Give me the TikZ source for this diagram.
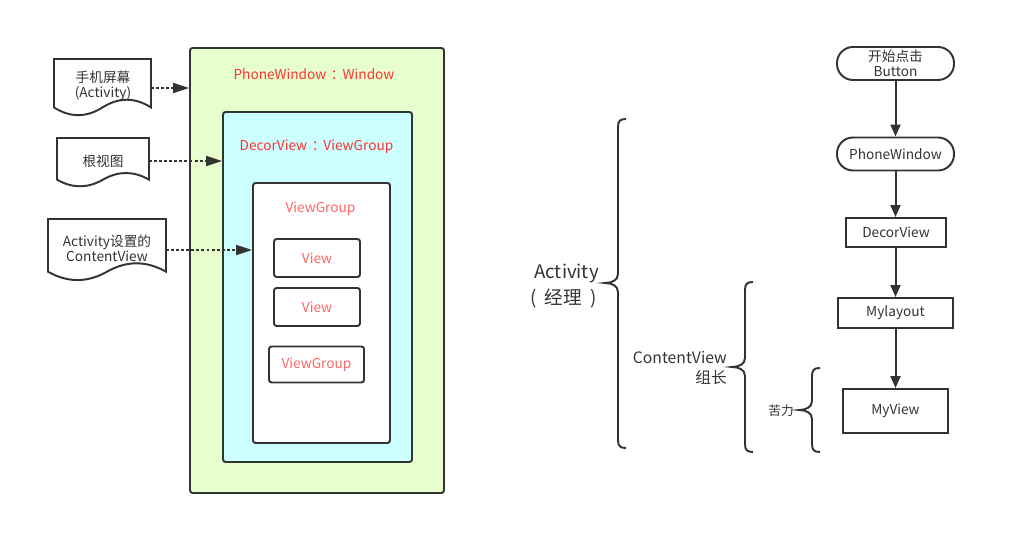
\documentclass[tikz,border=0pt]{standalone}
\usepackage{fontspec}
\setmainfont{Noto Sans CJK SC}
\usetikzlibrary{arrows.meta}
\definecolor{ln}{HTML}{333333}
\definecolor{redA}{HTML}{FF3333}
\definecolor{redB}{HTML}{FF6666}
\definecolor{greenfill}{HTML}{E6FFCC}
\definecolor{cyanfill}{HTML}{CCFFFF}
\newcommand\docshape[4]{%
  \pgfmathsetmacro\dw{#3-#1}\pgfmathsetmacro\dh{#4-#2}%
  \pgfmathsetmacro\ys{#4-0.15*\dh}%
  \pgfmathsetmacro\yc{\ys+2/3*(#4-0.42*\dh-\ys)}%
  \pgfmathsetmacro\yt{\ys+2/3*(#4+0.12*\dh-\ys)}%
  \pgfmathsetmacro\xm{(#1+#3)/2}%
  \draw[shapeline,fill=white] (#1,#2) -- (#3,#2) -- (#3,\ys) .. controls ({#3-\dw/6},\yc) and ({\xm+\dw/6},\yc) .. (\xm,\ys) .. controls ({\xm-\dw/6},\yt) and ({#1+\dw/6},\yt) .. (#1,\ys) -- cycle;}
\newcommand\bracepath[4]{% xv top mid bottom
  \draw[shapeline] ({#1+8},#2) .. controls ({#1+2},#2) and (#1,{#2+2}) .. (#1,{#2+8})
    -- (#1,{#3-9}) .. controls (#1,{#3-3}) and ({#1-6},#3) .. ({#1-13},#3)
    .. controls ({#1-6},#3) and (#1,{#3+3}) .. (#1,{#3+9})
    -- (#1,{#4-8}) .. controls (#1,{#4-2}) and ({#1+2},#4) .. ({#1+8},#4);}
\newcommand\smallfont{\fontsize{10.25}{11.25}\selectfont}
\tikzset{
  shapeline/.style={draw=ln, line width=1.45pt},
  box/.style={shapeline, rectangle, rounded corners=2pt, inner sep=0pt},
  fbox/.style={shapeline, rectangle, inner sep=0pt, font=\smallfont, text=ln, align=center},
  term/.style={fbox, rounded corners=12pt},
  txt/.style={inner sep=0pt, font=\smallfont, text=ln, align=center},
  redlabel/.style={inner sep=0pt, font=\smallfont, text=redA},
  redlabelB/.style={inner sep=0pt, font=\smallfont, text=redB},
  viewbox/.style={box, fill=white, text=redB, font=\smallfont},
  dotarrow/.style={draw=ln, line width=1.5pt, dash pattern=on 2.2pt off 1.6pt, -{Triangle[length=12pt,width=7.5pt]}},
  flowarrow/.style={draw=ln, line width=1.5pt, -{Triangle[length=9pt,width=7.5pt]}},
}
\begin{document}
\begin{tikzpicture}[x=0.75pt,y=-0.75pt]
\useasboundingbox (0,0) rectangle (1016,555);
% left containers
\node[box, fill=greenfill, minimum width=190.5pt, minimum height=333.75pt] (pw) at (317,270.5) {};
\node[redlabel] (pwl) at (314,74.5) {PhoneWindow\kern3.5pt：\kern-1.5pt Window};
\node[box, fill=cyanfill, minimum width=141.75pt, minimum height=262.5pt] (dv) at (317.5,287) {};
\node[redlabel] (dvl) at (316.5,147) {DecorView\kern3.5pt：\kern-1.5pt ViewGroup};
\node[box, fill=white, minimum width=102.75pt, minimum height=195pt] (vg) at (321.5,313) {};
\node[redlabelB] (vgl) at (320.5,208.5) {ViewGroup};
\node[viewbox, minimum width=64.5pt, minimum height=28.5pt] (v1) at (317,258) {View};
\node[viewbox, minimum width=64.5pt, minimum height=28.5pt] (v2) at (317,307) {View};
\node[viewbox, minimum width=71.25pt, minimum height=27pt] (vg2) at (316.5,364.5) {ViewGroup};
% documents
\docshape{54}{59}{151}{116}
\node[txt] (d1) at (103,86) {手机屏幕\\(Activity)};
\docshape{57}{138}{149}{187}
\node[txt] (d2) at (103,161.5) {根视图};
\docshape{48}{219}{166}{281}
\node[txt] (d3) at (107,248) {Activity设置的\\ContentView};
\coordinate (d1e) at (151,88);
\coordinate (d2e) at (149,161);
\coordinate (d3e) at (166,250);
\draw[dotarrow] (d1e) -- (d1e -| pw.west);
\draw[dotarrow] (d2e) -- (d2e -| dv.west);
\draw[dotarrow] (d3e) -- (d3e -| vg.west);
% braces
\bracepath{618}{119}{283}{448}
\bracepath{745}{282}{367}{452}
\bracepath{812}{368}{410}{452}
\node[inner sep=0pt, font=\fontsize{14}{18}\selectfont, text=ln] (act) at (566.5,273) {Activity};
\node[inner sep=0pt, font=\fontsize{14}{18}\selectfont, text=ln] (jl) at (563.5,298.5) {(\hspace{6pt}经理\hspace{6pt})};
\node[inner sep=0pt, font=\fontsize{11.8}{14}\selectfont, text=ln, anchor=east] (cv) at (727,358) {ContentView};
\node[inner sep=0pt, font=\fontsize{11.8}{14}\selectfont, text=ln, anchor=east] (zz) at (727,377.5) {组长};
\node[inner sep=0pt, font=\fontsize{9.5}{12}\selectfont, text=ln] (kl) at (781,411) {苦力};
% flow
\node[term, minimum width=87.75pt, minimum height=24.75pt] (btn) at (895.5,63.5) {开始点击\\Button};
\node[term, minimum width=87.75pt, minimum height=24.75pt] (pw2) at (895.5,154) {PhoneWindow};
\node[fbox, minimum width=75pt, minimum height=21.75pt] (dv2) at (896,232.5) {DecorView};
\node[fbox, minimum width=86.25pt, minimum height=22.5pt] (ml) at (895.5,313) {Mylayout};
\node[fbox, minimum width=78.75pt, minimum height=33pt] (mv) at (895.5,411) {MyView};
\draw[flowarrow] (btn.south) -- (btn.south |- pw2.north);
\draw[flowarrow] (pw2.south) -- (pw2.south |- dv2.north);
\draw[flowarrow] (pw2.south |- dv2.south) -- (pw2.south |- ml.north);
\draw[flowarrow] (pw2.south |- ml.south) -- (pw2.south |- mv.north);
\end{tikzpicture}
\end{document}
